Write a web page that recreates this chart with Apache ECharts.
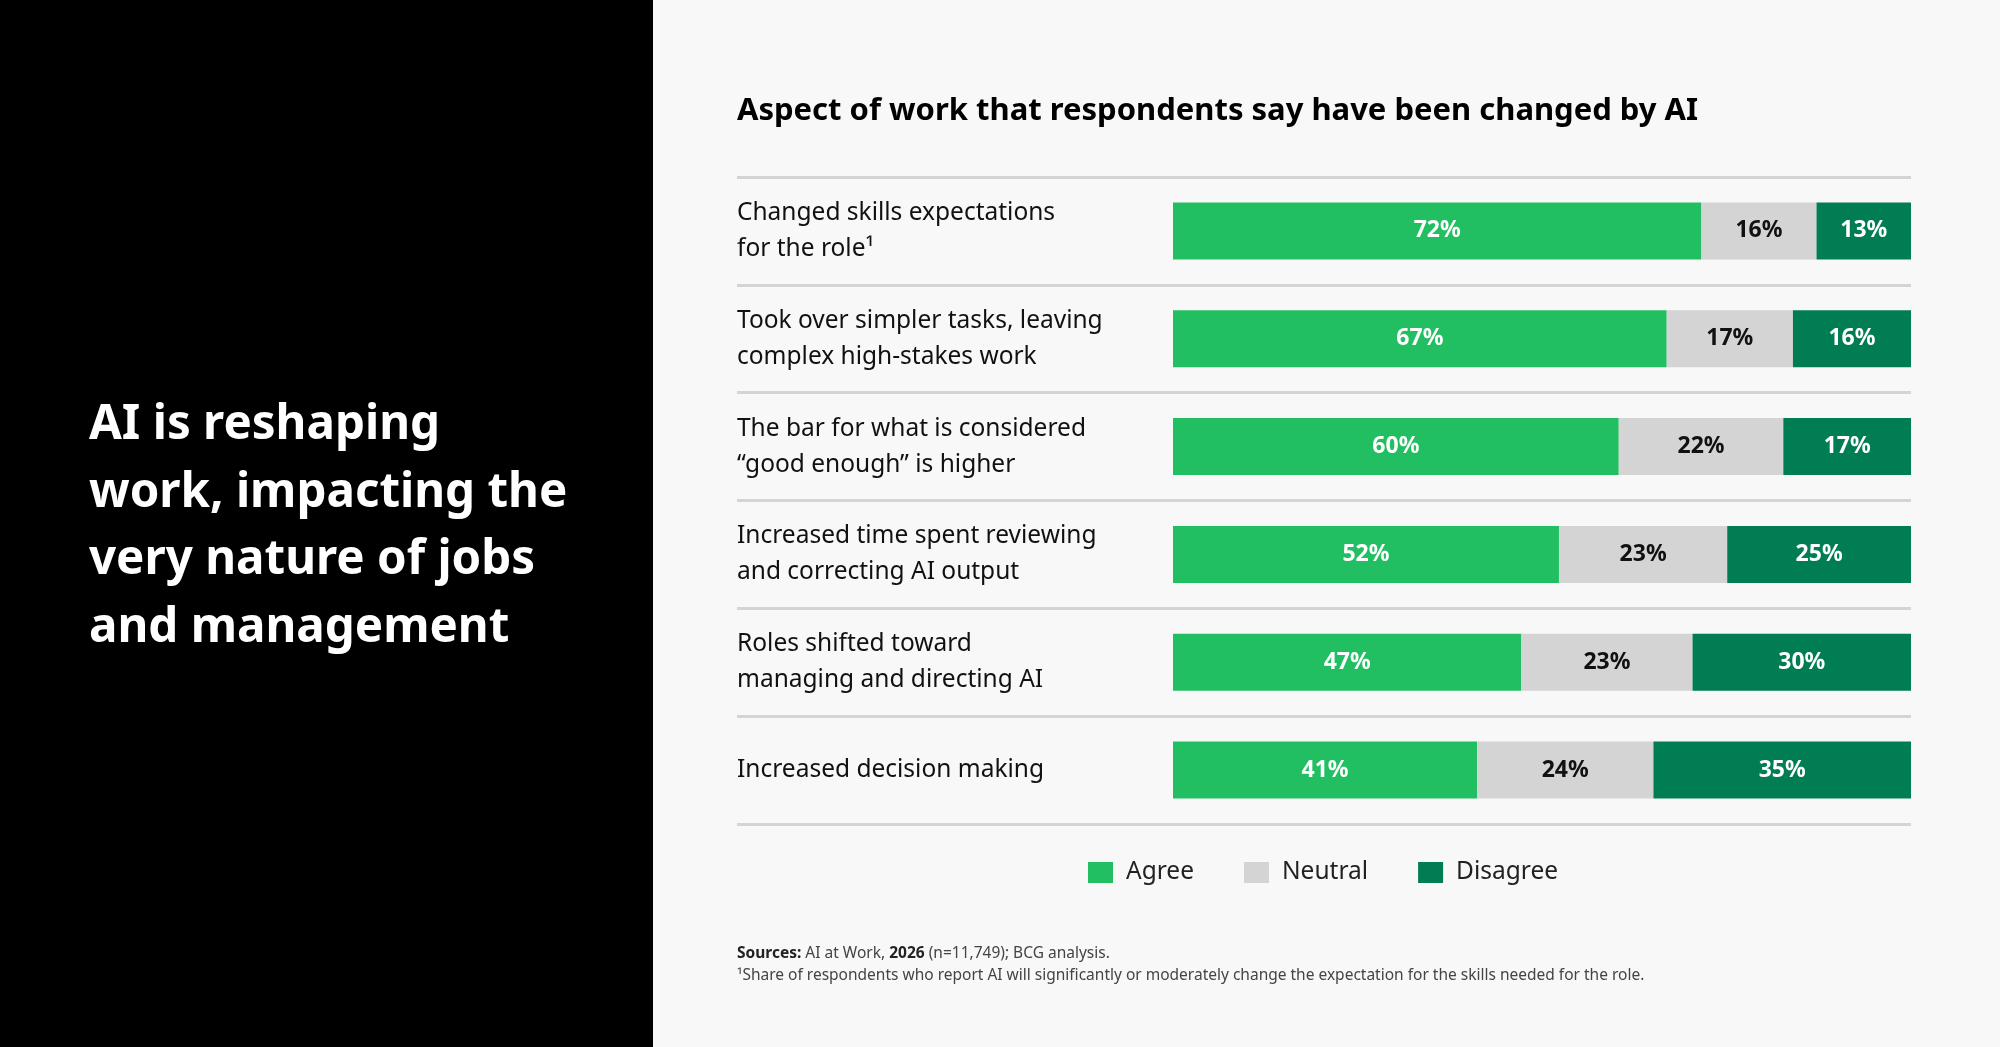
<!DOCTYPE html>
<html>
<head>
<meta charset="utf-8">
<script src="https://cdn.jsdelivr.net/npm/echarts@6/dist/echarts.min.js"></script>
<style>
html,body{margin:0;padding:0;background:#f8f8f8;}
#chart{width:2000px;height:1047px;}
</style>
</head>
<body>
<div id="chart"></div>
<script>
const categories = [
  "Changed skills expectations\nfor the role\u00b9",
  "Took over simpler tasks, leaving\ncomplex high-stakes work",
  "The bar for what is considered\n\u201cgood enough\u201d is higher",
  "Increased time spent reviewing\nand correcting AI output",
  "Roles shifted toward\nmanaging and directing AI",
  "Increased decision making"
];
const seriesNames = ["Agree", "Neutral", "Disagree"];
const agree    = [71.6, 66.9, 60.4, 52.3, 47.2, 41.2];
const neutral  = [15.6, 17.1, 22.3, 22.8, 23.2, 23.9];
const disagree = [12.8, 16.0, 17.3, 24.9, 29.6, 34.9];
const colors = ["#22bf62", "#d4d4d4", "#007d52"];
const labelColors = ["#ffffff", "#111111", "#ffffff"];

const FONT = "'Noto Sans', sans-serif";
const chart = echarts.init(document.getElementById('chart'), null, {renderer: 'canvas'});

const values = [agree, neutral, disagree];
const series = seriesNames.map((name, i) => ({
  name: name,
  type: 'bar',
  stack: 'total',
  barWidth: 57,
  data: values[i],
  itemStyle: {color: colors[i]},
  emphasis: {disabled: true},
  label: {
    show: true,
    position: 'inside',
    formatter: p => Math.round(p.value) + '%',
    color: labelColors[i],
    fontFamily: FONT,
    fontWeight: 'bold',
    fontSize: 23
  }
}));

// bars start at x=1173 inside a grid that starts at x=737 (label column)
const barStartRatio = 436 / 738;

chart.setOption({
  backgroundColor: '#f8f8f8',
  animation: false,
  textStyle: {fontFamily: FONT},
  graphic: [
    {type: 'rect', left: 0, top: 0, shape: {width: 653, height: 1047}, style: {fill: '#000'}, z: 0},
    {type: 'text', left: 89, top: 392, z: 10,
      style: {text: "AI is reshaping\nwork, impacting the\nvery nature of jobs\nand management",
        fill: '#fff', font: "bold 47.5px 'Noto Sans', sans-serif", lineHeight: 67.5}},
    {type: 'text', left: 737, top: 96, z: 10,
      style: {text: "Aspect of work that respondents say have been changed by AI",
        fill: '#000', font: "bold 31px 'Noto Sans', sans-serif"}},
    {type: 'text', left: 737, top: 946, z: 10,
      style: {text: "{b|Sources:} AI at Work, {b|2026} (n=11,749); BCG analysis.",
        fill: '#444', font: "15.5px 'Noto Sans', sans-serif",
        rich: {b: {fontWeight: 'bold', fill: '#222', fontSize: 15.5, fontFamily: FONT}}}},
    {type: 'text', left: 737, top: 968, z: 10,
      style: {text: "\u00b9Share of respondents who report AI will significantly or moderately change the expectation for the skills needed for the role.",
        fill: '#444', font: "15.5px 'Noto Sans', sans-serif"}}
  ],
  legend: {
    data: seriesNames,
    left: 1083,
    top: 855,
    itemWidth: 25,
    itemHeight: 21,
    itemGap: 50,
    icon: 'rect',
    selectedMode: false,
    textStyle: {fontSize: 24.5, color: '#222', fontFamily: FONT, padding: [0, 0, 0, 8]}
  },
  grid: {left: 737, right: 89, top: 177, height: 647, containLabel: false},
  xAxis: {
    type: 'value',
    min: -100 * barStartRatio,
    max: 100,
    show: false
  },
  yAxis: {
    type: 'category',
    data: categories,
    inverse: true,
    axisLine: {show: false},
    axisTick: {show: false},
    splitLine: {show: true, lineStyle: {color: '#d4d4d4', width: 3}},
    axisLabel: {
      inside: true,
      align: 'left',
      margin: 0,
      color: '#111',
      fontSize: 24.5,
      lineHeight: 36,
      fontFamily: FONT
    }
  },
  series: series
});
</script>
</body>
</html>
